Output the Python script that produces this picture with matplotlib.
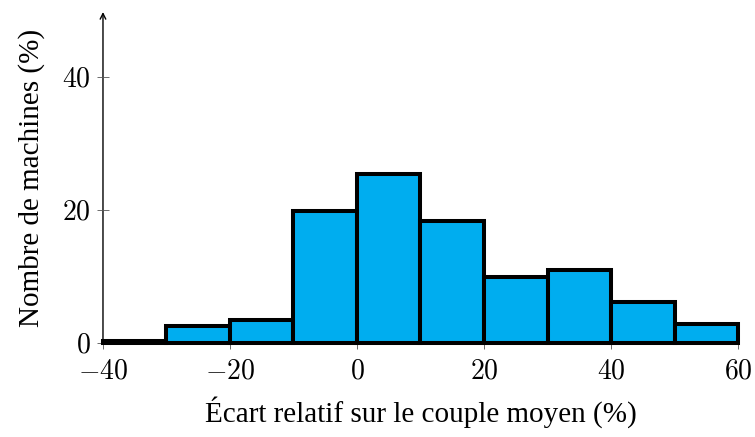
import numpy as np
import matplotlib
matplotlib.use('Agg')
import matplotlib.pyplot as plt

# --- DATA ---
bin_edges = [-40, -30, -20, -10, 0, 10, 20, 30, 40, 50, 60]
pct_machines = [0.3, 2.6, 3.5, 19.8, 25.4, 18.4, 10.0, 11.0, 6.1, 2.8]
x_ticks = [-40, -20, 0, 20, 40, 60]
y_ticks = [0, 20, 40]

BLUE = '#00ADEF'

plt.rcParams['mathtext.fontset'] = 'cm'
plt.rcParams['font.family'] = ['Liberation Serif', 'DejaVu Serif']

fig = plt.figure(figsize=(7.55, 4.37), dpi=100)
ax = fig.add_axes([0.1364, 0.2151, 0.8411, 0.7574])

lefts = np.array(bin_edges[:-1])
widths = np.diff(bin_edges)
ax.bar(lefts, pct_machines, width=widths, align='edge', color=BLUE,
       edgecolor='black', linewidth=2.9, zorder=3, clip_on=False)

ax.set_xlim(-40, 60)
ax.set_ylim(0, 49.8)
ax.set_xticks(x_ticks)
ax.set_xticklabels([f'${v}$' for v in x_ticks])
ax.set_yticks(y_ticks)
ax.set_yticklabels([f'${v}$' for v in y_ticks])
ax.tick_params(direction='inout', length=8, width=0.6, color='#555555',
               labelsize=20)
ax.tick_params(axis='x', pad=8)
ax.tick_params(axis='y', pad=5)

for s in ['top', 'right', 'left']:
    ax.spines[s].set_visible(False)
ax.spines['bottom'].set_linewidth(1.0)

# y axis with arrow head
ax.annotate('', xy=(0, 1.0), xytext=(0, 0), xycoords='axes fraction',
            arrowprops=dict(arrowstyle='->', lw=1.0, color='black',
                            shrinkA=0, shrinkB=0), zorder=1)

ax.set_xlabel('Écart relatif sur le couple moyen (%)', fontsize=21, labelpad=8)
ax.set_ylabel('Nombre de machines (%)', fontsize=21, labelpad=12)

fig.savefig('out.png', dpi=100)
